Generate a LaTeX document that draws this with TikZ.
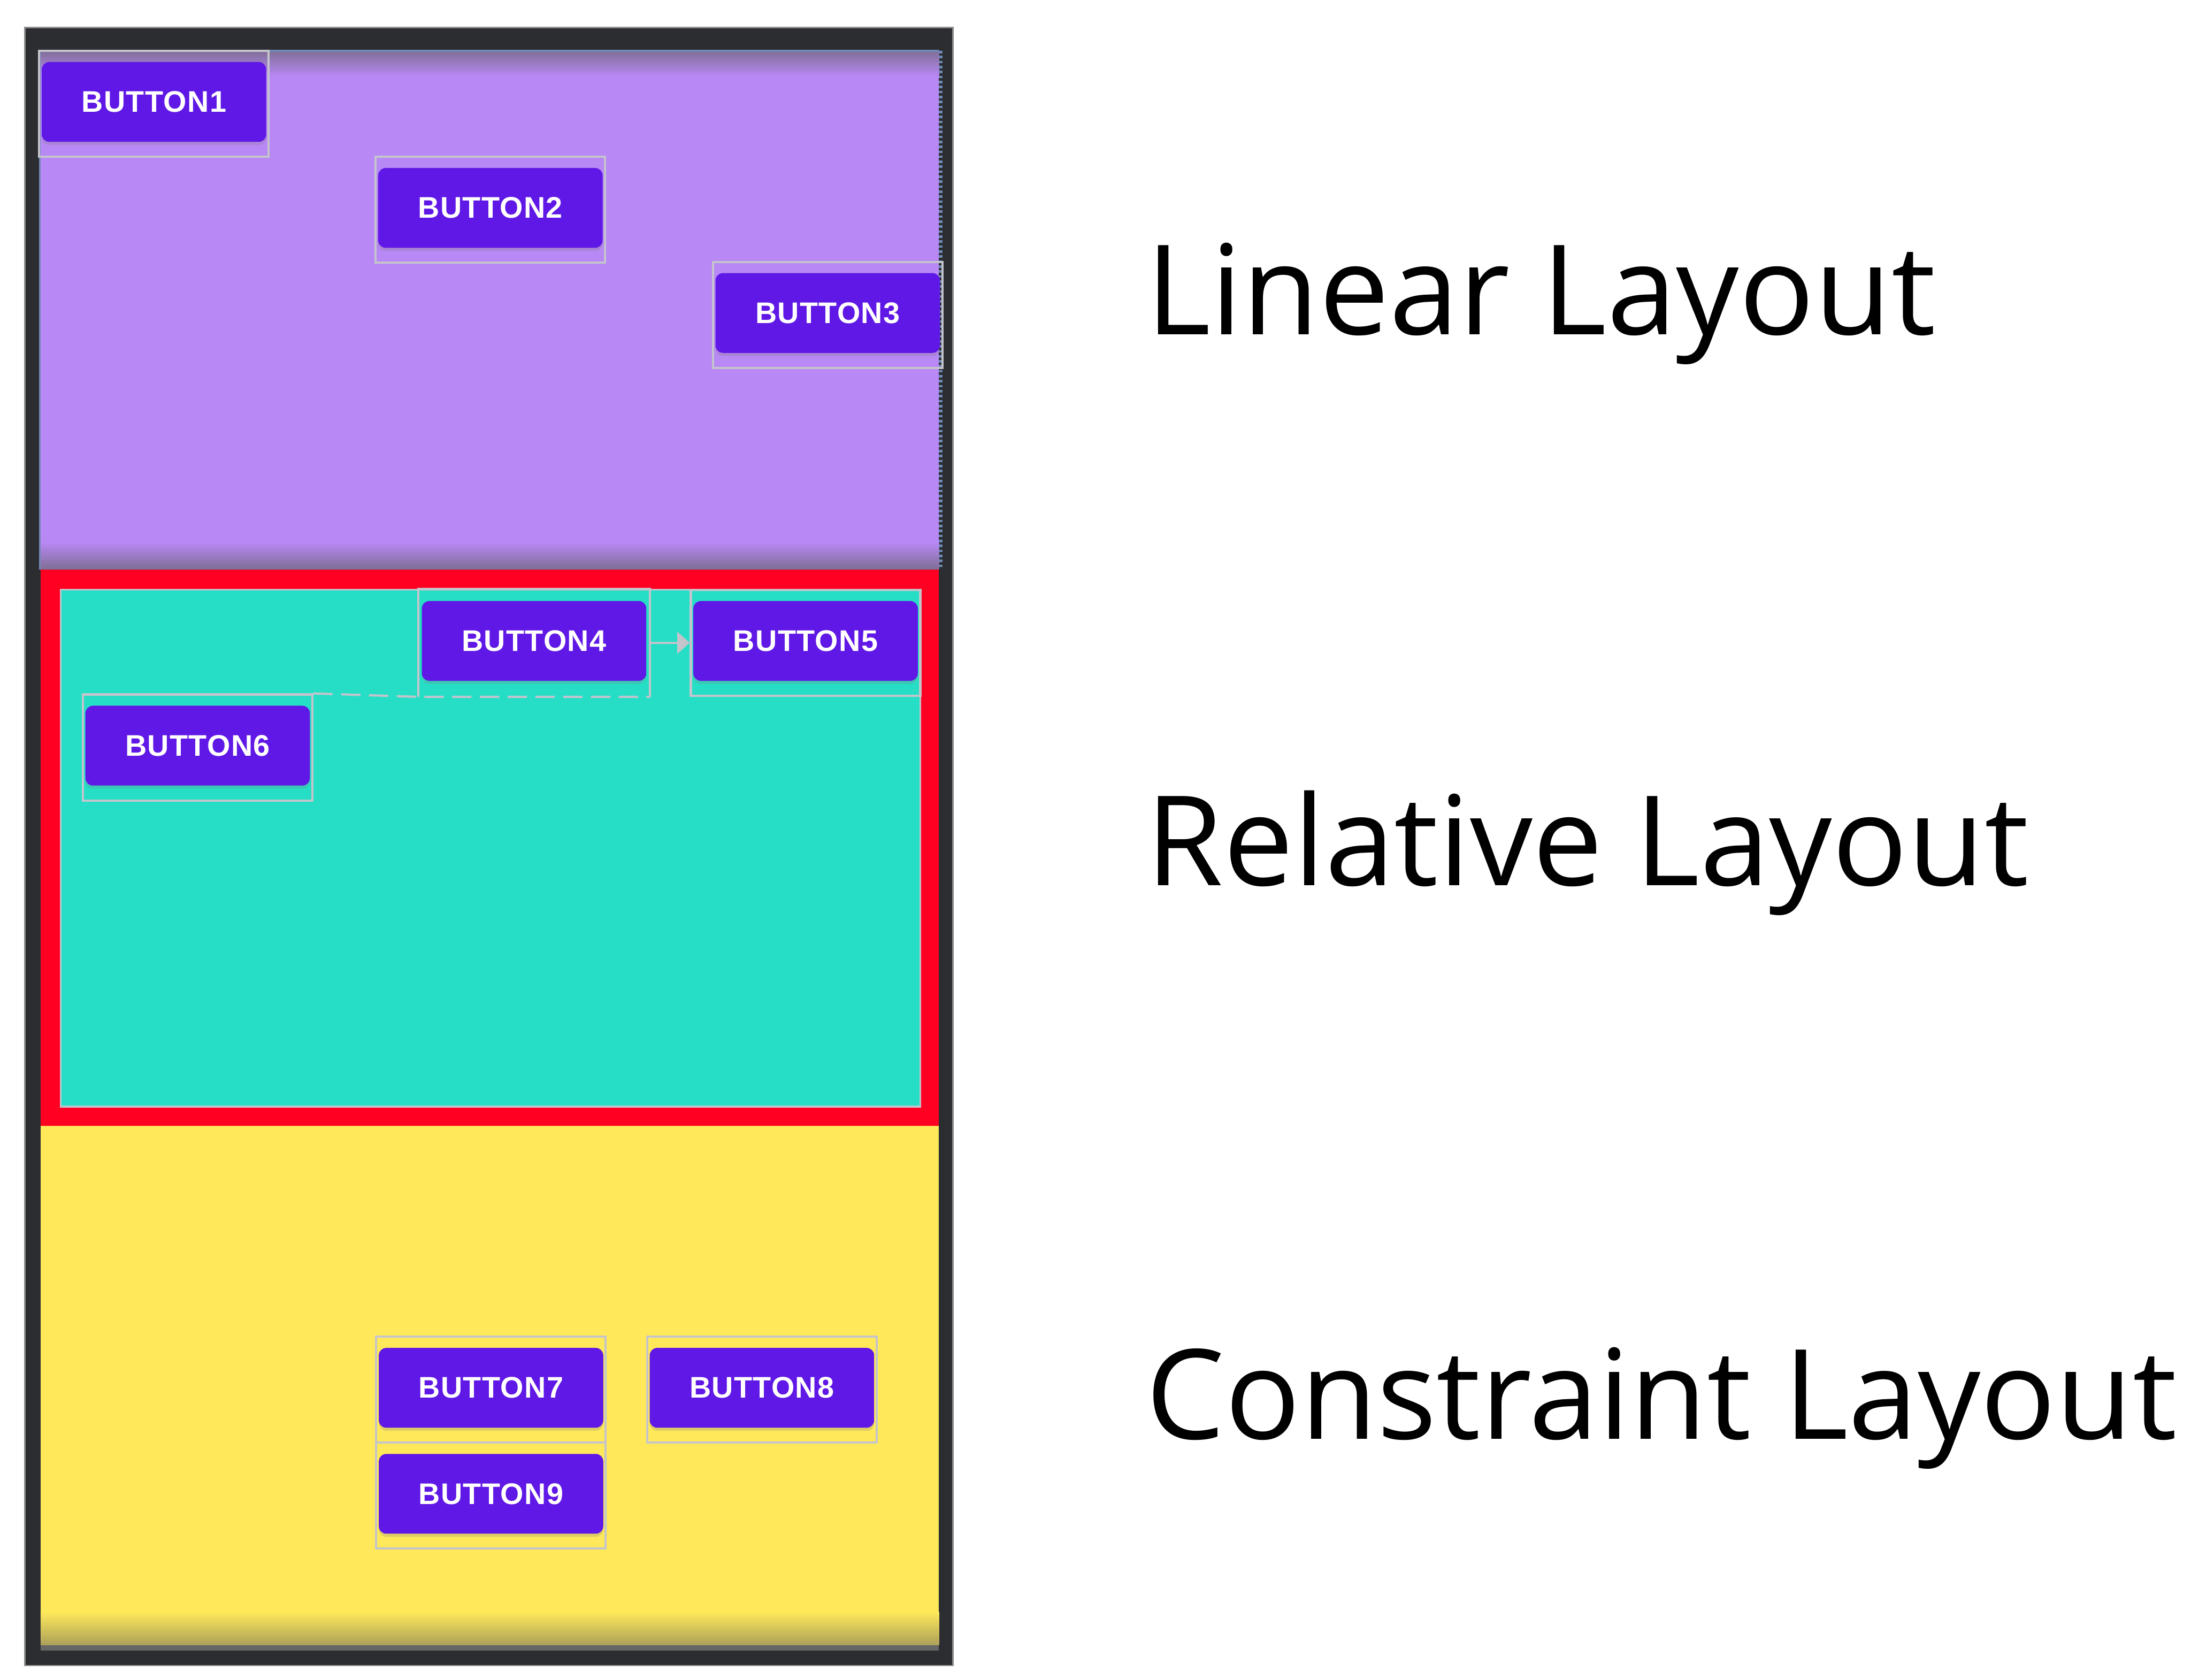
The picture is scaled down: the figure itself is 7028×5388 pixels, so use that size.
\documentclass[tikz,border=0pt]{standalone}
\usepackage{fontspec}
\setmainfont{Open Sans}
\newfontfamily\btnfont[LetterSpace=2.5]{Liberation Sans}
\usepackage{tikz}
\usetikzlibrary{arrows.meta, positioning, shadows}
\usepackage{xcolor}
\definecolor{framegray}{HTML}{2C2D30}
\definecolor{frameedge}{HTML}{8C8C8C}
\definecolor{linearbg}{HTML}{B888F4}
\definecolor{linearshade}{HTML}{7E6E94}
\definecolor{linearedge}{HTML}{7088B8}
\definecolor{relred}{HTML}{FF0022}
\definecolor{relbg}{HTML}{26DEC6}
\definecolor{consbg}{HTML}{FFE95A}
\definecolor{consshade}{HTML}{ACA05A}
\definecolor{btnpurple}{HTML}{6018E6}
\definecolor{boundgray}{HTML}{C4C4CC}

\begin{document}
\begin{tikzpicture}[
        x=0.05mm, y=-0.05mm,
        bounds/.style={draw=boundgray, line width=0.35mm, minimum width=36.8mm, minimum height=17mm, inner sep=0pt},
        guide/.style={draw=boundgray, line width=0.35mm},
        button/.style={fill=btnpurple, rounded corners=1.2mm, minimum width=36mm, minimum height=12.8mm, inner sep=0pt,
            text=white, font=\btnfont\bfseries\fontsize{13.6}{17}\selectfont,
            drop shadow={shadow xshift=0mm, shadow yshift=-0.5mm, opacity=0.25}},
        layoutlabel/.style={anchor=base west, inner sep=0pt, font=\fontsize{57}{68}\selectfont}
    ]
        \useasboundingbox (0,0) rectangle (7028,5388);
        \fill[white] (0,0) rectangle (7028,5388);

        % Marco del telefono
        \fill[framegray] (80,88) rectangle (3057,5343);
        \draw[frameedge, line width=0.25mm] (80,88) rectangle (3057,5343);

        % LinearLayout
        \fill[linearbg] (126,161) rectangle (3012,1827);
        \shade[top color=linearshade, bottom color=linearbg] (126,161) rectangle (3012,245);
        \shade[top color=linearbg, bottom color=linearshade] (126,1740) rectangle (3012,1827);
        \draw[linearedge, line width=0.3mm] (128,1827) -- (128,163) -- (3012,163);
        \draw[linearedge, line width=0.6mm, dash pattern=on 0.4mm off 0.4mm] (3017,163) -- (3017,1827);

        % RelativeLayout
        \fill[relred] (130,1827) rectangle (3012,3612);
        \fill[relbg] (195,1892) rectangle (2952,3550);
        \draw[boundgray, line width=0.3mm] (195,1892) rectangle (2952,3550);

        % ConstraintLayout
        \fill[consbg] (130,3612) rectangle (3012,5277);
        \shade[top color=consbg, bottom color=consshade] (130,5170) rectangle (3012,5277);
        \fill[black!60] (130,5277) rectangle (3012,5295);

        % Limites de los botones
        \node[bounds] (box1) at (494,333) {};
        \node[bounds] (box2) at (1573,673) {};
        \node[bounds] (box3) at (2655,1010) {};
        \node[bounds, draw=none] (box4) at (1713,2062) {};
        \node[bounds] (box5) at (2584,2062) {};
        \node[bounds] (box6) at (634,2398) {};
        \node[bounds] (box7) at (1575,4458) {};
        \node[bounds] (box8) at (2444,4458) {};
        \node[bounds] (box9) at (1575,4798) {};

        % Botones
        \node[button, yshift=0.3mm] (btn1) at (box1) {BUTTON1};
        \node[button, yshift=0.3mm] (btn2) at (box2) {BUTTON2};
        \node[button, yshift=0.3mm] (btn3) at (box3) {BUTTON3};
        \node[button, yshift=0.3mm] (btn4) at (box4) {BUTTON4};
        \node[button, yshift=0.3mm] (btn5) at (box5) {BUTTON5};
        \node[button, yshift=0.3mm] (btn6) at (box6) {BUTTON6};
        \node[button, yshift=0.3mm] (btn7) at (box7) {BUTTON7};
        \node[button, yshift=0.3mm] (btn8) at (box8) {BUTTON8};
        \node[button, yshift=0.3mm] (btn9) at (box9) {BUTTON9};

        % Restricciones de RelativeLayout
        \draw[guide] (box4.south west) -- (box4.north west) -- (box4.north east) -- (box4.south east);
        \draw[guide, dash pattern=on 3.1mm off 1.35mm] (box6.north east) -- (box4.south west) -- (box4.south east);
        \draw[guide, -{Triangle[length=2mm, width=3.5mm]}] (box4.east) -- (box5.west);

        % Nombres de los layouts
        \node[layoutlabel] (linear) at (3675,1073) {Linear Layout};
        \node[layoutlabel] (relative) at (3675,2840) {Relative Layout};
        \node[layoutlabel] (constraint) at (3675,4616) {Constraint Layout};
    \end{tikzpicture}
\end{document}
